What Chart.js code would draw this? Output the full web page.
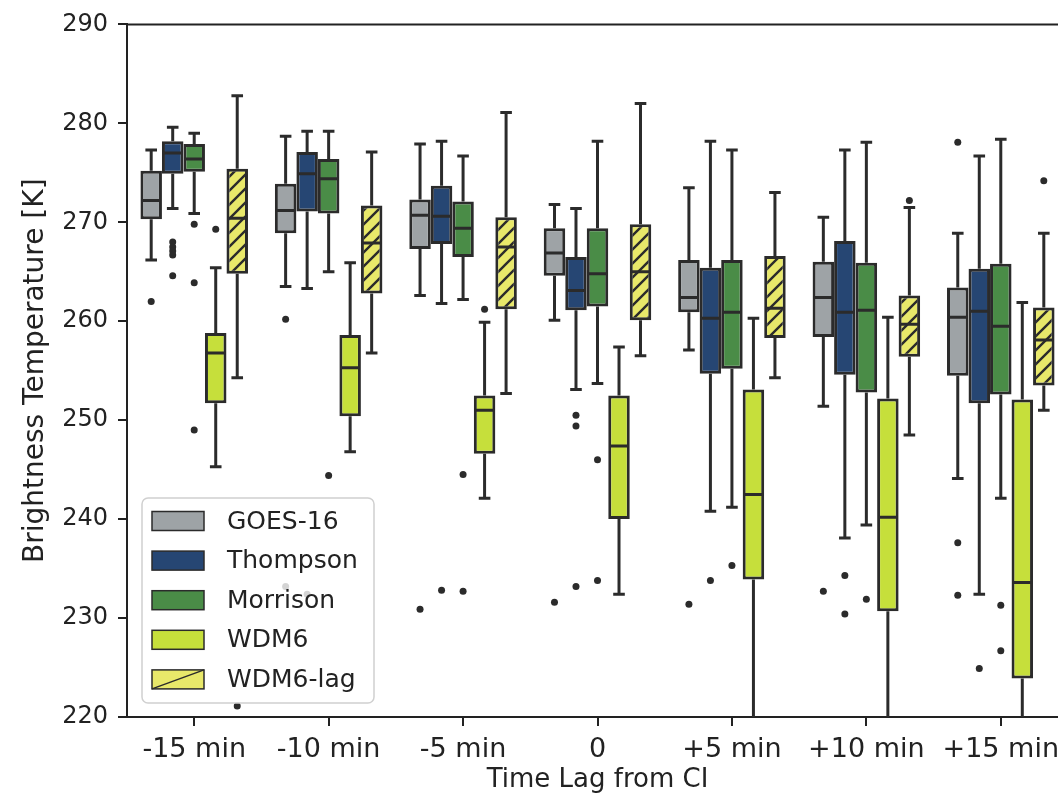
<!DOCTYPE html>
<html>
<head>
<meta charset="utf-8">
<script src="https://cdn.jsdelivr.net/npm/chart.js@4.4.0/dist/chart.umd.min.js"></script>
<style>
  html, body { margin: 0; padding: 0; background: #fff; overflow: hidden; }
  #wrap { position: relative; width: 1080px; height: 800px; }
</style>
</head>
<body>
<div id="wrap"><canvas id="box"></canvas></div>
<script>
// x categories
const lags = ['-15 min', '-10 min', '-5 min', '0', '+5 min', '+10 min', '+15 min'];
const yTicks = [220, 230, 240, 250, 260, 270, 280, 290];

// [lower whisker, q1, median, q3, upper whisker] per lag
const goes16 = [
    [266.2, 270.3, 272.2, 275.2, 277.3],
    [263.5, 268.9, 271.2, 273.9, 278.7],
    [262.6, 267.3, 270.7, 272.3, 277.9],
    [260.1, 264.6, 266.9, 269.4, 271.8],
    [257.1, 260.9, 262.4, 266.2, 273.5],
    [251.4, 258.4, 262.4, 266.0, 270.5],
    [244.1, 254.5, 260.4, 263.4, 268.9]
];
const thompson = [
    [271.4, 274.9, 277.0, 278.2, 279.6],
    [263.3, 271.1, 274.9, 277.1, 279.2],
    [261.8, 267.8, 270.6, 273.7, 278.2],
    [253.1, 261.1, 263.1, 266.5, 271.4],
    [240.8, 254.7, 260.3, 265.4, 278.2],
    [238.1, 254.6, 260.9, 268.1, 277.3],
    [232.4, 251.7, 261.0, 265.3, 276.7]
];
const morrison = [
    [270.9, 275.1, 276.4, 277.9, 279.0],
    [265.0, 270.9, 274.4, 276.4, 279.2],
    [262.2, 266.5, 269.4, 272.1, 276.7],
    [253.7, 261.5, 264.8, 269.4, 278.2],
    [241.2, 255.2, 260.9, 266.2, 277.3],
    [239.4, 252.8, 261.1, 265.9, 278.1],
    [242.1, 252.6, 259.5, 265.8, 278.4]
];
const wdm6 = [
    [245.3, 251.7, 256.8, 258.8, 265.4],
    [246.8, 250.4, 255.3, 258.6, 265.9],
    [242.1, 246.6, 251.0, 252.5, 259.9],
    [232.4, 240.0, 247.4, 252.5, 257.4],
    [205.0, 233.9, 242.5, 253.1, 260.3],
    [205.0, 230.7, 240.2, 252.2, 260.4],
    [205.0, 223.9, 233.6, 252.1, 261.9]
];
const wdm6Lag = [
    [254.3, 264.8, 270.4, 275.4, 282.8],
    [256.8, 262.8, 267.9, 271.7, 277.1],
    [252.7, 261.2, 267.5, 270.5, 281.1],
    [256.5, 260.1, 265.0, 269.8, 282.0],
    [254.3, 258.3, 261.3, 266.6, 273.0],
    [248.5, 256.4, 259.7, 262.6, 271.5],
    [251.0, 253.5, 258.1, 261.4, 268.9]
];

// fliers
const goes16Out = [[262.0], [260.2, 233.2], [230.9], [231.6], [231.4], [232.7], [278.1, 237.6, 232.3]];
const thompsonOut = [[268.0, 267.5, 267.1, 266.7, 264.6], [232.4], [232.8], [250.5, 249.4, 233.2], [233.8], [234.3, 230.4], [224.9]];
const morrisonOut = [[269.8, 263.9, 249.0], [244.4], [244.5, 232.7], [246.0, 233.8], [235.3], [231.9], [231.3, 226.7]];
const wdm6Out = [[269.3], [], [261.2], [], [], [], []];
const wdm6LagOut = [[221.1], [], [], [], [], [272.2], [274.2]];

const ink = '#2b2b2b';

// diagonal hatch for WDM6-lag
function hatch(bg) {
    const c = document.createElement('canvas');
    c.width = c.height = 14;
    const g = c.getContext('2d');
    g.fillStyle = bg;
    g.fillRect(0, 0, 14, 14);
    g.strokeStyle = ink;
    g.lineWidth = 2.4;
    g.beginPath();
    g.moveTo(-1, 15); g.lineTo(15, -1);
    g.moveTo(-8, 8); g.lineTo(8, -8);
    g.moveTo(6, 22); g.lineTo(22, 6);
    g.stroke();
    return g.createPattern(c, 'repeat');
}

function boxSet(label, stats, fliers, fill, legendFill) {
    return {
        label: label,
        data: stats.map(s => [s[1], s[3]]),
        stats: stats,
        fliers: fliers,
        legendFill: legendFill || fill,
        backgroundColor: fill,
        borderColor: ink,
        borderWidth: 3,
        borderSkipped: false
    };
}

const series = [
    boxSet('GOES-16', goes16, goes16Out, '#9ea3a6'),
    boxSet('Thompson', thompson, thompsonOut, '#264673'),
    boxSet('Morrison', morrison, morrisonOut, '#4a8c47'),
    boxSet('WDM6', wdm6, wdm6Out, '#c6df3b'),
    boxSet('WDM6-lag', wdm6Lag, wdm6LagOut, hatch('#e8e86a'), '#e8e86a')
];

// whiskers, medians and fliers on top of the floating bars
const boxParts = {
    id: 'boxParts',
    afterDatasetsDraw(chart) {
        const ctx = chart.ctx, area = chart.chartArea, y = chart.scales.y;
        ctx.save();
        ctx.beginPath();
        ctx.rect(area.left, area.top, area.right - area.left, area.bottom - area.top);
        ctx.clip();
        ctx.strokeStyle = ink;
        ctx.fillStyle = ink;
        ctx.lineWidth = 3;
        chart.data.datasets.forEach((ds, d) => {
            chart.getDatasetMeta(d).data.forEach((bar, i) => {
                const s = ds.stats[i];
                const x = bar.x, w = bar.width, cap = w * 0.27;
                ctx.beginPath();
                ctx.moveTo(x, y.getPixelForValue(s[3]));
                ctx.lineTo(x, y.getPixelForValue(s[4]));
                ctx.moveTo(x - cap, y.getPixelForValue(s[4]));
                ctx.lineTo(x + cap, y.getPixelForValue(s[4]));
                ctx.moveTo(x, y.getPixelForValue(s[1]));
                ctx.lineTo(x, y.getPixelForValue(s[0]));
                ctx.moveTo(x - cap, y.getPixelForValue(s[0]));
                ctx.lineTo(x + cap, y.getPixelForValue(s[0]));
                ctx.moveTo(x - w / 2 + 1, y.getPixelForValue(s[2]));
                ctx.lineTo(x + w / 2 - 1, y.getPixelForValue(s[2]));
                ctx.stroke();
                ds.fliers[i].forEach(v => {
                    ctx.beginPath();
                    ctx.arc(x, y.getPixelForValue(v), 3.5, 0, Math.PI * 2);
                    ctx.fill();
                });
            });
        });
        ctx.restore();

        // top spine
        ctx.save();
        ctx.strokeStyle = '#222';
        ctx.lineWidth = 2;
        ctx.beginPath();
        ctx.moveTo(area.left, area.top);
        ctx.lineTo(area.right, area.top);
        ctx.stroke();
        ctx.restore();
    },
    // legend box in lower left corner
    afterDraw(chart) {
        const ctx = chart.ctx, area = chart.chartArea;
        const lx = area.left + 15, ly = area.bottom - 219, lw = 232, lh = 205;
        ctx.save();
        ctx.fillStyle = 'rgba(255,255,255,0.8)';
        ctx.strokeStyle = '#d0d0d0';
        ctx.lineWidth = 1.5;
        ctx.beginPath();
        ctx.roundRect(lx, ly, lw, lh, 6);
        ctx.fill();
        ctx.stroke();
        ctx.font = '25px "DejaVu Sans"';
        ctx.textBaseline = 'middle';
        chart.data.datasets.forEach((ds, d) => {
            const cy = ly + 23 + d * 39.6;
            const px = lx + 10, pw = 52, ph = 19;
            ctx.fillStyle = ds.legendFill;
            ctx.fillRect(px, cy - ph / 2, pw, ph);
            ctx.strokeStyle = ink;
            ctx.lineWidth = 1.5;
            ctx.strokeRect(px, cy - ph / 2, pw, ph);
            if (ds.label === 'WDM6-lag') {
                ctx.beginPath();
                ctx.moveTo(px, cy + ph / 2);
                ctx.lineTo(px + pw, cy - ph / 2);
                ctx.stroke();
            }
            ctx.fillStyle = '#222';
            ctx.fillText(ds.label, lx + 85, cy + 1);
        });
        ctx.restore();
    }
};

new Chart(document.getElementById('box'), {
    type: 'bar',
    data: { labels: lags, datasets: series },
    plugins: [boxParts],
    options: {
        responsive: true,
        maintainAspectRatio: false,
        animation: false,
        layout: { padding: { top: 18, right: 12, left: 0, bottom: 0 } },
        datasets: { bar: { categoryPercentage: 0.8, barPercentage: 1.0 } },
        plugins: { legend: { display: false }, tooltip: { enabled: false } },
        scales: {
            x: {
                grid: { drawOnChartArea: false, offset: false, tickLength: 9, color: '#222', lineWidth: 2 },
                border: { color: '#222', width: 2 },
                ticks: { color: '#222', font: { family: 'DejaVu Sans', size: 27 }, padding: 8, maxRotation: 0 },
                title: {
                    display: true, text: 'Time Lag from CI', color: '#222',
                    font: { family: 'DejaVu Sans', size: 26 }, padding: { top: 0, bottom: 4 }
                },
                afterFit: s => { s.height = 83; }
            },
            y: {
                min: 220,
                max: 290,
                afterBuildTicks: s => { s.ticks = yTicks.map(v => ({ value: v })); },
                grid: { drawOnChartArea: false, tickLength: 9, color: '#222', lineWidth: 2 },
                border: { color: '#222', width: 2 },
                ticks: { color: '#222', font: { family: 'DejaVu Sans', size: 24 }, padding: 10 },
                title: {
                    display: true, text: 'Brightness Temperature [K]', color: '#222',
                    font: { family: 'DejaVu Sans', size: 28 }, padding: { top: 19, bottom: 0 }
                },
                afterFit: s => { s.width = 127; }
            }
        }
    }
});
</script>
</body>
</html>
